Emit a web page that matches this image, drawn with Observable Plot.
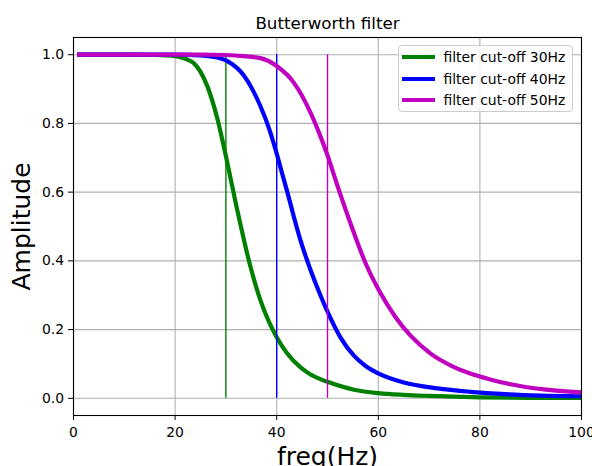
<!DOCTYPE html>
<html>
<head>
<meta charset="utf-8">
<script src="https://cdn.jsdelivr.net/npm/d3@7"></script>
<script src="https://cdn.jsdelivr.net/npm/@observablehq/plot@0.6"></script>
<style>
  html, body { margin: 0; padding: 0; background: #fff; }
  #wrap { position: relative; width: 592px; height: 466px; overflow: hidden; font-family: "DejaVu Sans", sans-serif; }
  #legend { position: absolute; left: 397.5px; top: 45px; width: 175px; height: 67px;
            border: 1px solid #cccccc; border-radius: 4px; background: rgba(255,255,255,0.8);
            box-sizing: border-box; }
  .row { position: absolute; left: 0; height: 20px; display: flex; align-items: center; }
  .row svg { margin-left: 3px; }
  .row span { margin-left: 9px; font-size: 13.9px; color: #000; white-space: nowrap; }
</style>
</head>
<body>
<div id="wrap"></div>
<script>
// Data
const cutoffs = [30, 40, 50];
const labels = ["filter cut-off 30Hz", "filter cut-off 40Hz", "filter cut-off 50Hz"];
const colors = ["#008000", "#0000ff", "#bf00bf"];

const freq30 = [0.7, 10, 16, 20, 22, 23.7, 25, 26.3, 28.3, 30, 32.2, 34.8, 36.8, 38.5, 40, 42, 44.7, 46.5, 48.6, 50, 55.2, 60, 65, 70, 80, 90, 100];
const amp30  = [1, 1, 0.999, 0.996, 0.988, 0.975, 0.95, 0.91, 0.815, 0.705, 0.55, 0.385, 0.285, 0.222, 0.178, 0.132, 0.09, 0.071, 0.056, 0.048, 0.025, 0.015, 0.01, 0.007, 0.003, 0.0015, 0.001];

const freq40 = [0.7, 20, 25, 27, 30.2, 33.5, 36.8, 38.5, 40, 41, 42.1, 43.4, 44.7, 46.7, 48.6, 50, 52.6, 55.2, 57.5, 60.2, 65, 71.6, 78.1, 85, 92, 100];
const amp40  = [1, 1, 0.998, 0.995, 0.982, 0.94, 0.85, 0.785, 0.712, 0.658, 0.600, 0.527, 0.459, 0.372, 0.300, 0.252, 0.176, 0.124, 0.094, 0.071, 0.046, 0.029, 0.019, 0.012, 0.008, 0.006];

const freq50 = [0.7, 25, 30, 33.5, 36.8, 40, 43.4, 46.7, 48.6, 50, 52.2, 54.5, 57.5, 60.2, 63.4, 66.3, 70.3, 74.9, 78.1, 82, 86, 92.6, 100];
const amp50  = [1, 1, 0.999, 0.996, 0.99, 0.967, 0.918, 0.83, 0.763, 0.707, 0.608, 0.51, 0.393, 0.312, 0.236, 0.183, 0.13, 0.091, 0.072, 0.055, 0.041, 0.026, 0.017];

const ruleBottom = 0, ruleTop = 1;
const xTicks = [0, 20, 40, 60, 80, 100];
const yTicks = [0, 0.2, 0.4, 0.6, 0.8, 1.0];
const xDomain = [0, 100];
const yDomain = [-0.05, 1.05];

const freqs = [freq30, freq40, freq50];
const amps = [amp30, amp40, amp50];
const tables = freqs.map((fs, i) => fs.map((f, j) => ({freq: f, amp: amps[i][j]})));

const seriesMarks = [];
tables.forEach((t, i) => {
  seriesMarks.push(Plot.line(t, {x: "freq", y: "amp", stroke: colors[i], strokeWidth: 4.2,
    curve: "monotone-x", clip: true, strokeLinecap: "butt"}));
  seriesMarks.push(Plot.ruleX([cutoffs[i]], {x: d => d, y1: ruleBottom, y2: ruleTop,
    stroke: colors[i], strokeWidth: 1.4}));
});

const chart = Plot.plot({
  width: 592,
  height: 466,
  marginLeft: 73,
  marginRight: 11,
  marginTop: 37,
  marginBottom: 51,
  style: {fontFamily: "DejaVu Sans, sans-serif", color: "#000", background: "#fff", overflow: "visible"},
  x: {domain: xDomain},
  y: {domain: yDomain},
  marks: [
    Plot.gridX(xTicks, {stroke: "#b0b0b0", strokeOpacity: 1, strokeWidth: 1.1}),
    Plot.gridY(yTicks, {stroke: "#b0b0b0", strokeOpacity: 1, strokeWidth: 1.1}),
    ...seriesMarks,
    Plot.frame({stroke: "#000", strokeWidth: 1.1}),
    Plot.axisX(xTicks, {tickSize: 5, tickPadding: 6.5, fontSize: 13.9, label: null, tickFormat: d => String(d)}),
    Plot.axisY(yTicks, {tickSize: 5, tickPadding: 4.5, fontSize: 13.9, label: null, tickFormat: d => d.toFixed(1)}),
    Plot.text(["Butterworth filter"], {frameAnchor: "top", textAnchor: "middle", lineAnchor: "middle", dy: -14.1, fontSize: 16.7, fill: "#000"}),
    Plot.text(["freq(Hz)"], {frameAnchor: "bottom", textAnchor: "middle", lineAnchor: "middle", dy: 41, fontSize: 25, fill: "#000"}),
    Plot.text(["Amplitude"], {frameAnchor: "left", textAnchor: "middle", lineAnchor: "middle", dx: -52, rotate: -90, fontSize: 25, fill: "#000"})
  ]
});

const wrap = document.getElementById("wrap");
wrap.appendChild(chart);

const legend = document.createElement("div");
legend.id = "legend";
labels.forEach((lab, i) => {
  const row = document.createElement("div");
  row.className = "row";
  row.style.top = (1 + i * 21.6) + "px";
  row.innerHTML = `<svg width="33" height="6"><line x1="0" x2="33" y1="3" y2="3" stroke="${colors[i]}" stroke-width="4.2"/></svg><span>${lab}</span>`;
  legend.appendChild(row);
});
wrap.appendChild(legend);
</script>
</body>
</html>
